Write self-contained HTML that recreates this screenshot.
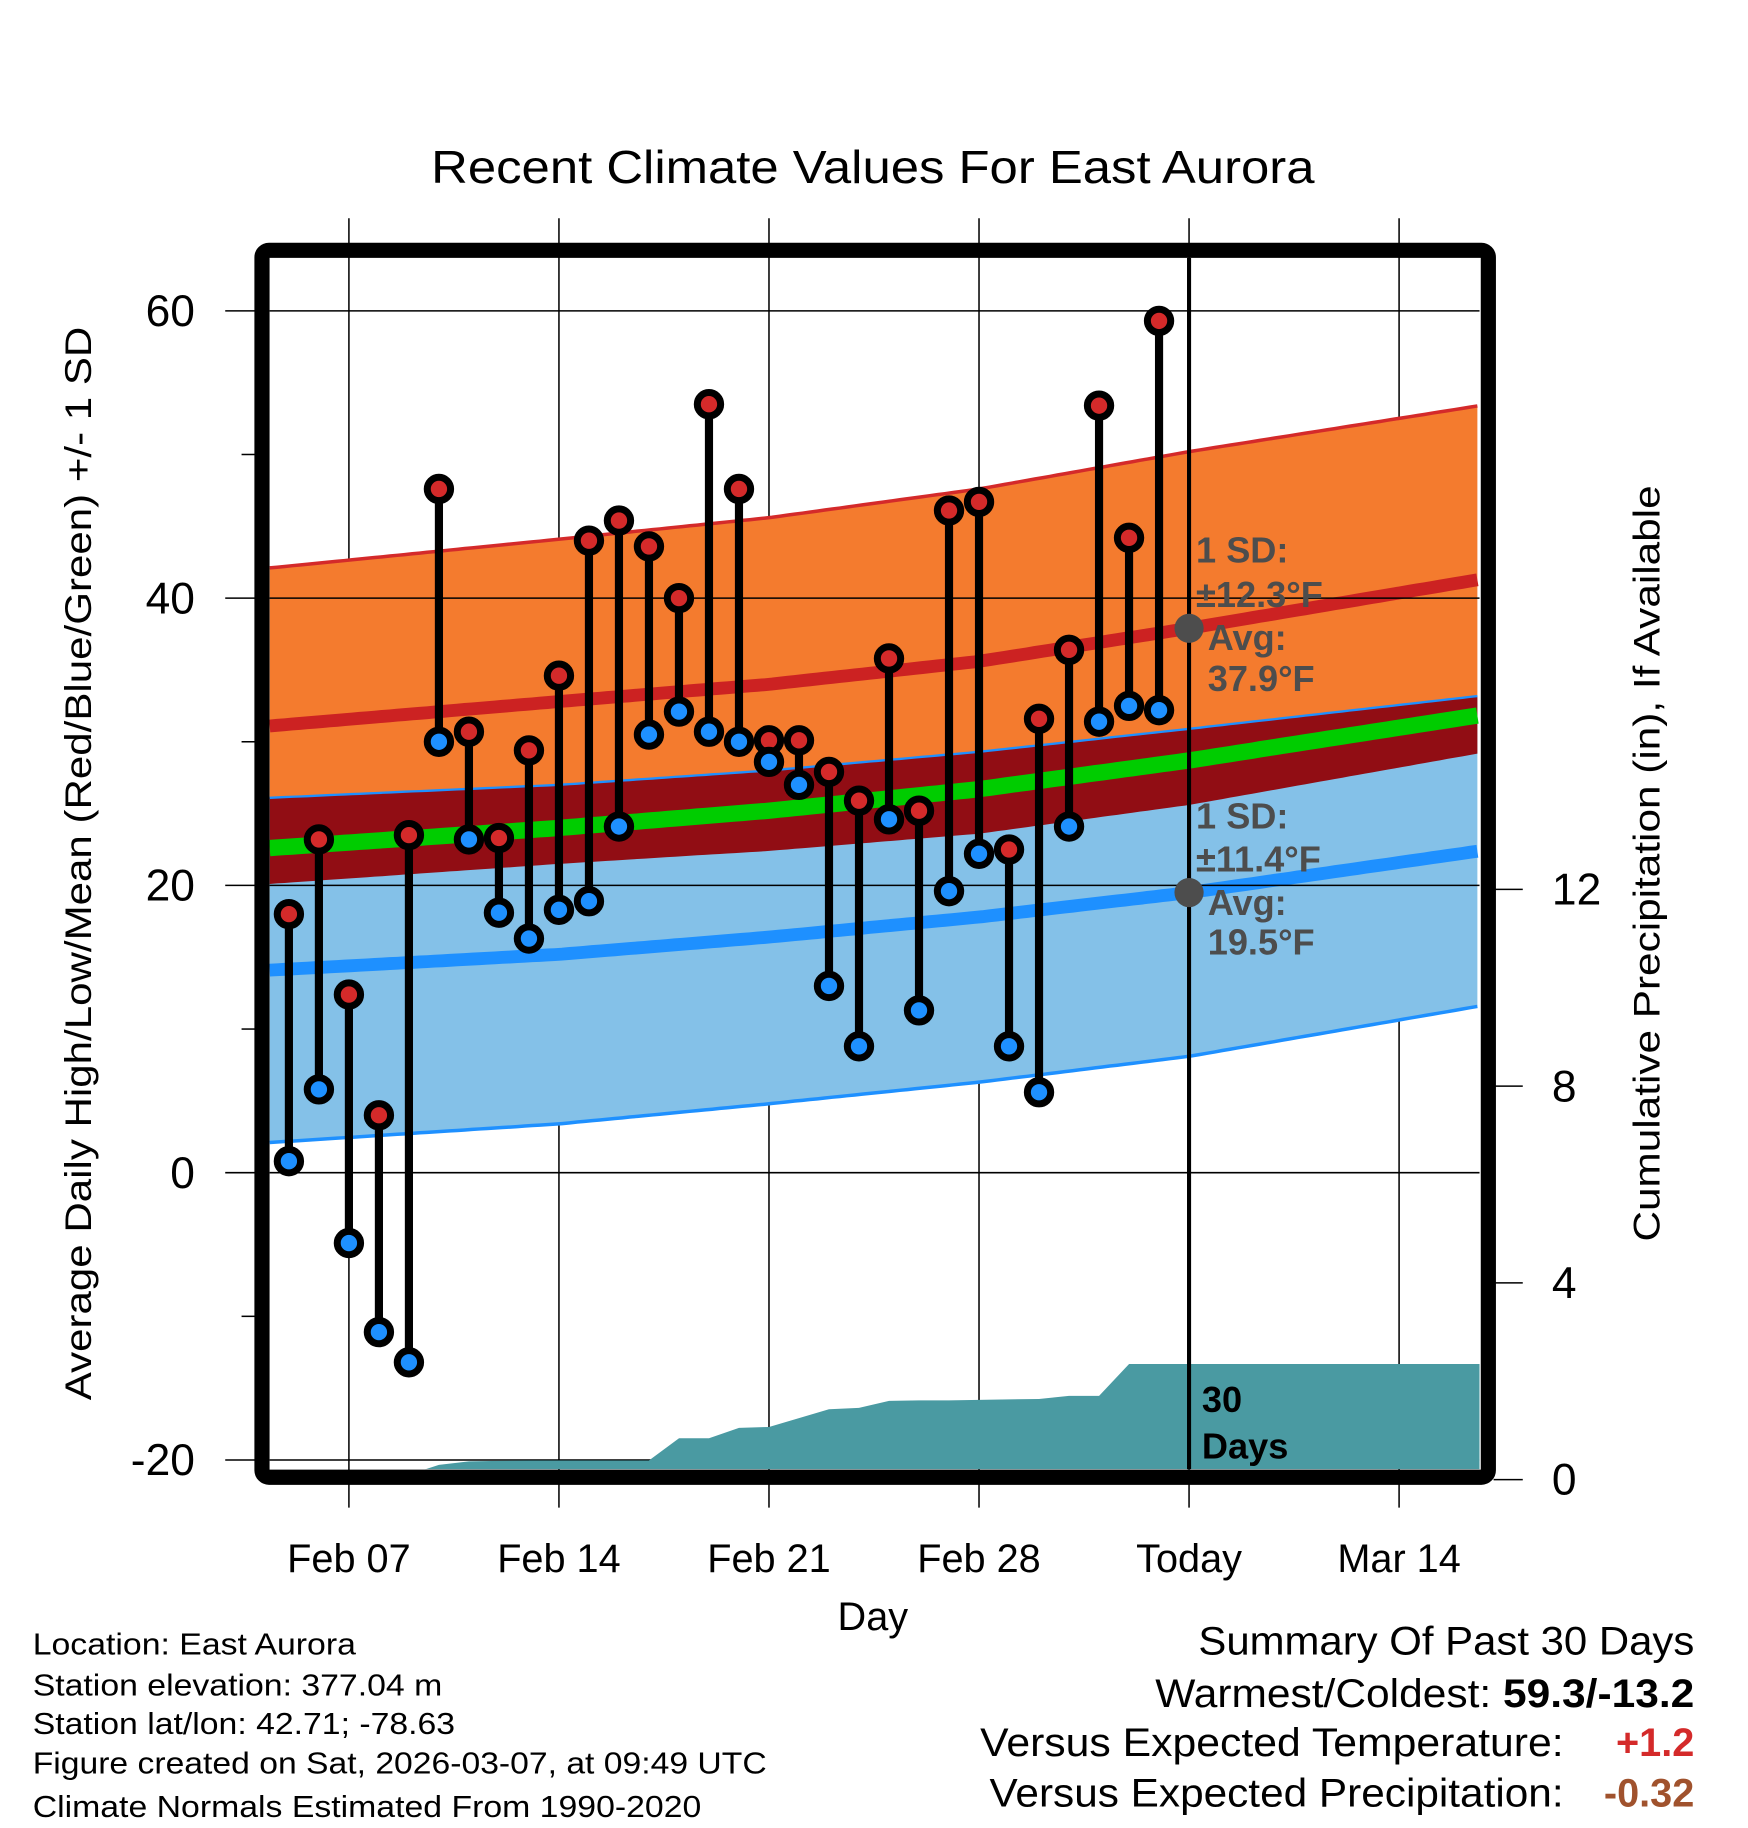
<!DOCTYPE html>
<html><head><meta charset="utf-8"><title>Recent Climate Values For East Aurora</title>
<style>html,body{margin:0;padding:0;background:#fff}svg{display:block}text{font-family:"Liberation Sans",Arial,sans-serif}</style></head>
<body>
<svg id="chart" xmlns="http://www.w3.org/2000/svg" width="1748" height="1828" viewBox="0 0 1498 1566.6">
<defs><clipPath id="plotclip"><rect x="231" y="221" width="1037" height="1038"/></clipPath></defs>
<text x="748" y="157" font-size="40" text-anchor="middle" textLength="757" lengthAdjust="spacingAndGlyphs">Recent Climate Values For East Aurora</text>
<g id="grid"></g>
<g id="bands" clip-path="url(#plotclip)"></g>
<g id="gridover" clip-path="url(#plotclip)"></g>
<g id="precip" clip-path="url(#plotclip)"></g>
<g id="annot"></g>
<g id="marks"></g>
<rect x="224.5" y="214.5" width="1051" height="1051.5" rx="6" fill="none" stroke="#000" stroke-width="13"/>
<g id="axes"></g>
<text transform="translate(78,740) rotate(-90)" font-size="32" text-anchor="middle" textLength="920" lengthAdjust="spacingAndGlyphs">Average Daily High/Low/Mean (Red/Blue/Green) +/- 1 SD</text>
<text transform="translate(1422,740) rotate(-90)" font-size="32" text-anchor="middle" textLength="648" lengthAdjust="spacingAndGlyphs">Cumulative Precipitation (in), If Available</text>
<text x="748" y="1397" font-size="34" text-anchor="middle">Day</text>
<g font-size="26">
<text x="28" y="1418" textLength="277" lengthAdjust="spacingAndGlyphs">Location: East Aurora</text>
<text x="28" y="1453" textLength="351" lengthAdjust="spacingAndGlyphs">Station elevation: 377.04 m</text>
<text x="28" y="1486" textLength="362" lengthAdjust="spacingAndGlyphs">Station lat/lon: 42.71; -78.63</text>
<text x="28" y="1520" textLength="629" lengthAdjust="spacingAndGlyphs">Figure created on Sat, 2026-03-07, at 09:49 UTC</text>
<text x="28" y="1557" textLength="573" lengthAdjust="spacingAndGlyphs">Climate Normals Estimated From 1990-2020</text>
</g>
<g font-size="34">
<text x="1027" y="1418" textLength="425" lengthAdjust="spacingAndGlyphs">Summary Of Past 30 Days</text>
<text x="990" y="1463" textLength="462" lengthAdjust="spacingAndGlyphs">Warmest/Coldest: <tspan font-weight="bold">59.3/-13.2</tspan></text>
<text x="840" y="1505" textLength="500" lengthAdjust="spacingAndGlyphs">Versus Expected Temperature:</text>
<text x="1452" y="1505" font-weight="bold" fill="#d42a2a" text-anchor="end">+1.2</text>
<text x="848" y="1548" textLength="492" lengthAdjust="spacingAndGlyphs">Versus Expected Precipitation:</text>
<text x="1452" y="1548" font-weight="bold" fill="#a0522d" text-anchor="end">-0.32</text>
</g>
</svg>
<script>
// ---- data ----
const dayLabels = ["Feb 07","Feb 14","Feb 21","Feb 28","Today","Mar 14"];
const dayLabelOffsets = [0,7,14,21,28,35];
const yTicks = [-20,0,20,40,60];
const yMinorTicks = [-10,10,30,50];
const precipTicks = [0,4,8,12];
const obsDays = [-2,-1,0,1,2,3,4,5,6,7,8,9,10,11,12,13,14,15,16,17,18,19,20,21,22,23,24,25,26,27];
const highs = [18.0,23.2,12.4,4.0,23.5,47.6,30.7,23.3,29.4,34.6,44.0,45.4,43.6,40.0,53.5,47.6,30.1,30.1,27.9,25.9,35.8,25.2,46.1,46.7,22.5,31.6,36.4,53.4,44.2,59.3];
const lows = [0.8,5.8,-4.9,-11.1,-13.2,30.0,23.2,18.1,16.3,18.3,18.9,24.1,30.5,32.1,30.7,30.0,28.6,27.0,13.0,8.8,24.6,11.3,19.6,22.2,8.8,5.6,24.1,31.4,32.5,32.2];
const precipCum = [0,0,0,0,0.1,0.3,0.37,0.38,0.39,0.39,0.39,0.39,0.39,0.84,0.84,1.05,1.07,1.25,1.43,1.46,1.6,1.61,1.61,1.62,1.63,1.64,1.7,1.7,2.35,2.35];
const normDays = [-2.64,7,14,21,28,37.68];
const highAvg = [31.1,32.8,34.0,35.6,37.9,41.3];
const highSD = [11.0,11.3,11.6,12.0,12.3,12.1];
const lowAvg = [14.1,15.2,16.4,17.8,19.5,22.4];
const lowSD = [12.0,11.8,11.6,11.5,11.4,10.8];
const todayDay = 28;
// ---- scales ----
const NS="http://www.w3.org/2000/svg";
const X0=231,X1=1268,Y0=221,Y1=1259;
function xs(d){return 299+d*180/7;}
function ys(v){return 1005-v*12.31;}
function yp(p){return 1268-p*42.15;}
function mk(tag,attrs,parent){const e=document.createElementNS(NS,tag);for(const k in attrs)e.setAttribute(k,attrs[k]);parent.appendChild(e);return e;}
function interp(arr,d){for(let i=0;i<normDays.length-1;i++){if(d<=normDays[i+1]||i==normDays.length-2){const t=(d-normDays[i])/(normDays[i+1]-normDays[i]);return arr[i]+(arr[i+1]-arr[i])*t;}}}
const grid=document.getElementById('grid'),gridover=document.getElementById('gridover'),bands=document.getElementById('bands'),precip=document.getElementById('precip'),annot=document.getElementById('annot'),marks=document.getElementById('marks'),axes=document.getElementById('axes');
dayLabelOffsets.forEach((d,i)=>{
  const l=mk('line',{x1:xs(d),x2:xs(d),y1:187,y2:1292,stroke:'#000','stroke-width':1.3},grid);
  
  
  const t=mk('text',{x:xs(d),y:1347,'font-size':34,'text-anchor':'middle'},axes);
  t.textContent=dayLabels[i];
  
  
});
const sd=[];for(let d=normDays[0];d<=normDays[normDays.length-1]+0.01;d+=0.25)sd.push(d);
function curve(f){return sd.map(d=>xs(d).toFixed(1)+','+ys(f(d)).toFixed(1));}
function band(fTop,fBot,fill,name){const p=mk('polygon',{points:curve(fTop).concat(curve(fBot).reverse()).join(' '),fill:fill},bands);}
function line(f,stroke,w,name){const p=mk('polyline',{points:curve(f).join(' '),fill:'none',stroke:stroke,'stroke-width':w},bands);}
const hA=d=>interp(highAvg,d),hS=d=>interp(highSD,d),lA=d=>interp(lowAvg,d),lS=d=>interp(lowSD,d);
band(d=>hA(d)+hS(d),d=>hA(d)-hS(d),'#f47b2e','high-sd-band');
band(d=>lA(d)+lS(d),d=>lA(d)-lS(d),'#84c1e8','low-sd-band');
band(d=>lA(d)+lS(d),d=>Math.min(hA(d)-hS(d),lA(d)+lS(d)),'#910d14','overlap-band');
line(d=>hA(d)+hS(d),'#d42a2a',3,'high-plus-sd-line');
line(d=>lA(d)+lS(d),'#1e90ff',2,'low-plus-sd-line');
line(d=>lA(d)-lS(d),'#1e90ff',3,'low-minus-sd-line');
line(hA,'#cc2222',11,'high-avg-line');
line(lA,'#1e90ff',11,'low-avg-line');
line(d=>(hA(d)+lA(d))/2,'#00cc00',14,'mean-avg-line');
yTicks.forEach(v=>{
  const l=mk('line',{x1:X0,x2:X1,y1:ys(v),y2:ys(v),stroke:'#000','stroke-width':1.3},gridover);
  
  
  const t=mk('line',{x1:193,x2:220,y1:ys(v),y2:ys(v),stroke:'#000','stroke-width':1.3},axes);
  
  
  const tl=mk('text',{x:167,y:ys(v)+13,'font-size':38,'text-anchor':'end'},axes);
  tl.textContent=String(v);
  
  
});
yMinorTicks.forEach(v=>{
  const t=mk('line',{x1:207,x2:220,y1:ys(v),y2:ys(v),stroke:'#000','stroke-width':1.3},axes);
  
  
});
precipTicks.forEach(p=>{
  const t=mk('line',{x1:1280,x2:1305,y1:yp(p),y2:yp(p),stroke:'#000','stroke-width':1.3},axes);
  
  
  const tl=mk('text',{x:1330,y:yp(p)+13,'font-size':38,'text-anchor':'start'},axes);
  tl.textContent=String(p);
  
  
});
{
  const pts=[xs(obsDays[0])+','+yp(0)];
  obsDays.forEach((d,i)=>pts.push(xs(d).toFixed(1)+','+yp(precipCum[i]).toFixed(1)));
  pts.push(X1+','+yp(precipCum[precipCum.length-1]).toFixed(1));
  pts.push(X1+','+yp(0));
  const a=mk('polygon',{points:pts.join(' '),fill:'#4a9aa2'},precip);
  
  
}
{
  const l=mk('line',{x1:xs(todayDay),x2:xs(todayDay),y1:Y0,y2:Y1,stroke:'#000','stroke-width':3.5},annot);
  
  
  const hd=mk('circle',{cx:xs(todayDay),cy:ys(hA(todayDay)),r:12.5,fill:'#4d4d4d'},annot);
  
  
  const ld=mk('circle',{cx:xs(todayDay),cy:ys(lA(todayDay)),r:12.5,fill:'#4d4d4d'},annot);
  
  
  const lines=[["1 SD:",1025,482],["\u00B112.3\u00B0F",1025,520],["Avg:",1035,557],[" 37.9\u00B0F",1035,592],["1 SD:",1025,710],["\u00B111.4\u00B0F",1025,747],["Avg:",1035,784],[" 19.5\u00B0F",1035,818]];
  lines.forEach(l=>{const t=mk('text',{x:l[1],y:l[2],'font-size':31,'font-weight':'bold',fill:'#4d4d4d'},annot);t.textContent=l[0];});
  [["30",1210],["Days",1250]].forEach(l=>{const t=mk('text',{x:1030,y:l[1],'font-size':31,'font-weight':'bold',fill:'#000'},annot);t.textContent=l[0];});
}
obsDays.forEach((d,i)=>{
  const x=xs(d);
  const s=mk('line',{x1:x,x2:x,y1:ys(highs[i]),y2:ys(lows[i]),stroke:'#000','stroke-width':7},marks);
  
  
});
obsDays.forEach((d,i)=>{
  const x=xs(d);
  const h=mk('circle',{cx:x,cy:ys(highs[i]),r:10,fill:'#d42a2a',stroke:'#000','stroke-width':6},marks);
  
  
  const l=mk('circle',{cx:x,cy:ys(lows[i]),r:10,fill:'#1e90ff',stroke:'#000','stroke-width':6},marks);
  
  
});
</script>
</body></html>
